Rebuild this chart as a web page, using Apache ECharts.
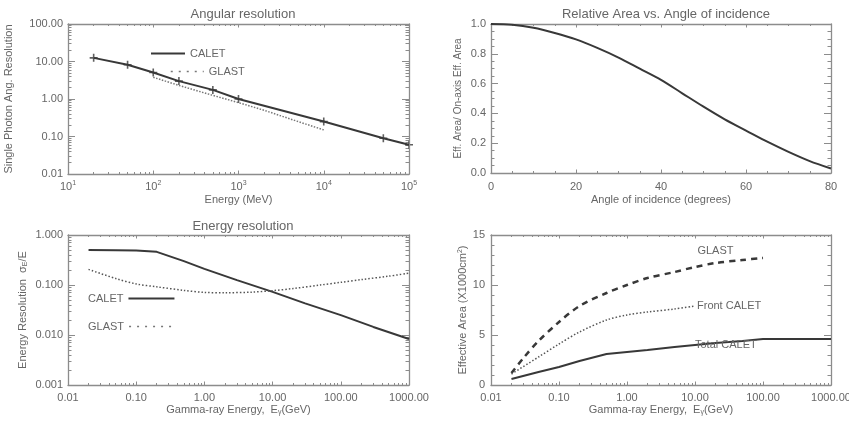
<!DOCTYPE html>
<html><head><meta charset="utf-8">
<script src="https://cdn.jsdelivr.net/npm/echarts@6/dist/echarts.min.js"></script>
<style>html,body{margin:0;padding:0;background:#fff}#c{width:849px;height:423px}</style>
</head><body><div id="c"></div>
<script>
// ---------- DATA ----------
// Panel 1: Angular resolution (deg) vs Energy (MeV)
const angXTicks = [1e1, 1e2, 1e3, 1e4, 1e5];
const angYTicks = [0.01, 0.1, 1, 10, 100];
const angEnergyCalet = [20, 50, 100, 200, 500, 1000, 10000, 50000, 100000];
const angCalet = [12.5, 8.2, 5.1, 3.0, 1.75, 1.0, 0.25, 0.09, 0.06];
const angEnergyGlast = [100, 200, 500, 1000, 2000, 5000, 10000];
const angGlast = [3.8, 2.3, 1.25, 0.8, 0.5, 0.25, 0.15];

// Panel 2: Relative area vs angle of incidence
const incXTicks = [0, 20, 40, 60, 80];
const incYTicks = [0, 0.2, 0.4, 0.6, 0.8, 1.0];
const incAngle = [0, 5, 10, 15, 20, 25, 30, 35, 40, 45, 50, 55, 60, 65, 70, 75, 80];
const relArea = [1.0, 0.995, 0.975, 0.94, 0.897, 0.84, 0.775, 0.70, 0.625, 0.535, 0.445, 0.36, 0.285, 0.21, 0.142, 0.08, 0.03];

// Panel 3: Energy resolution vs gamma-ray energy (GeV)
const gevTicks = [0.01, 0.1, 1, 10, 100, 1000];
const eresYTicks = [0.001, 0.01, 0.1, 1];
const eresEnergyCalet = [0.02, 0.05, 0.1, 0.2, 0.5, 1, 3, 10, 30, 100, 300, 1000];
const eresCalet = [0.5, 0.495, 0.49, 0.46, 0.3, 0.21, 0.125, 0.073, 0.043, 0.025, 0.0145, 0.0083];
const eresEnergyGlast = [0.02, 0.05, 0.1, 0.2, 0.5, 1, 2, 5, 10, 20, 50, 100, 200, 500, 1000];
const eresGlast = [0.205, 0.135, 0.105, 0.092, 0.078, 0.071, 0.07, 0.072, 0.077, 0.085, 0.1, 0.113, 0.128, 0.15, 0.172];

// Panel 4: Effective area (x1000 cm^2) vs gamma-ray energy (GeV)
const aeffYTicks = [0, 5, 10, 15];
const aeffEnergyGlast = [0.02, 0.03, 0.05, 0.1, 0.2, 0.5, 1, 2, 5, 10, 20, 50, 100];
const aeffGlast = [1.2, 2.7, 4.4, 6.3, 7.9, 9.2, 10.0, 10.7, 11.3, 11.8, 12.2, 12.5, 12.7];
const aeffEnergyFront = [0.02, 0.05, 0.1, 0.2, 0.5, 1, 2, 5, 10];
const aeffFront = [1.1, 2.8, 4.1, 5.3, 6.5, 7.0, 7.3, 7.6, 7.9];
const aeffEnergyTotal = [0.02, 0.05, 0.1, 0.2, 0.5, 1, 2, 5, 10, 20, 50, 100, 1000];
const aeffTotal = [0.6, 1.3, 1.8, 2.4, 3.1, 3.3, 3.5, 3.8, 4.0, 4.2, 4.4, 4.6, 4.6];

// ---------- STYLE ----------
const TXT = '#666', AX = '#8c8c8c', LN = '#383838';
const FONT = '"Liberation Sans", Arial, sans-serif';
const zip = (xs, ys) => xs.map((x, i) => [x, ys[i]]);

function minorLogs(min, max) {
  const out = [];
  for (let d = Math.round(Math.log10(min)); d < Math.round(Math.log10(max)); d++) {
    for (let k = 2; k <= 9; k++) out.push(Math.log10(k) + d);
  }
  return out;
}

const xAxes = [], yAxes = [];
function buildAxes(list, g, dim, c) {
  const main = dim === 'x' ? 'bottom' : 'left', opp = dim === 'x' ? 'top' : 'right';
  const mk = (pos, withLabel) => {
    const a = {
      gridIndex: g, position: pos, type: c.type, min: c.min, max: c.max,
      axisLine: { show: true, onZero: false, lineStyle: { color: AX, width: 1.3 } },
      axisTick: { show: true, inside: true, length: c.major, lineStyle: { color: AX, width: 1 } },
      splitLine: { show: false }, minorSplitLine: { show: false },
      axisLabel: { show: false }, silent: true, z: 3
    };
    if (c.type === 'log') a.logBase = 10;
    if (c.interval != null) a.interval = c.interval;
    if (c.type === 'value' && c.minorSplit) a.minorTick = { show: true, splitNumber: c.minorSplit, length: c.minor, lineStyle: { color: AX, width: 1 } };
    if (withLabel) {
      a.axisLabel = { show: true, color: TXT, fontSize: 11, fontFamily: FONT, margin: c.margin,
        formatter: c.fmt, rich: c.rich, showMinLabel: true, showMaxLabel: true, hideOverlap: false };
      a.name = c.name; a.nameLocation = 'middle'; a.nameGap = c.nameGap;
      a.nameTextStyle = { color: TXT, fontSize: c.nameSize || 11, fontFamily: FONT, rich: c.nameRich };
    }
    return a;
  };
  const idx = list.length;
  list.push(mk(main, true), mk(opp, false));
  if (c.type === 'log') {
    const vals = minorLogs(c.min, c.max);
    const mkMinor = pos => ({
      gridIndex: g, position: pos, type: 'value', min: Math.log10(c.min), max: Math.log10(c.max),
      axisLine: { show: false, onZero: false },
      axisTick: { show: true, inside: true, length: c.minor, customValues: vals, lineStyle: { color: AX, width: 1 } },
      axisLabel: { show: false }, splitLine: { show: false }, silent: true
    });
    list.push(mkMinor(main), mkMinor(opp));
  }
  return idx;
}

const supRich = {
  b: { fontSize: 11, color: TXT, fontFamily: FONT },
  s: { fontSize: 7, color: TXT, fontFamily: FONT, padding: [0, 0, 6, 0] }
};
const nameRich = {
  n: { fontSize: 11, color: TXT, fontFamily: FONT },
  sub: { fontSize: 7, color: TXT, fontFamily: FONT, padding: [5, 0, 0, 0] },
  sup: { fontSize: 7, color: TXT, fontFamily: FONT, padding: [0, 0, 6, 0] }
};

// Panel 1
const p1x = buildAxes(xAxes, 0, 'x', { type: 'log', min: angXTicks[0], max: angXTicks[angXTicks.length - 1], major: 3.5, minor: 2, margin: 6,
  fmt: v => '{b|10}{s|' + Math.round(Math.log10(v)) + '}', rich: supRich, name: 'Energy (MeV)', nameGap: 20 });
const p1y = buildAxes(yAxes, 0, 'y', { type: 'log', min: angYTicks[0], max: angYTicks[angYTicks.length - 1], major: 7, minor: 3.5, margin: 5,
  fmt: v => Number(v).toFixed(2), name: 'Single Photon Ang. Resolution', nameGap: 54 });
// Panel 2
const p2x = buildAxes(xAxes, 1, 'x', { type: 'value', min: incXTicks[0], max: incXTicks[incXTicks.length - 1], interval: 20, minorSplit: 4, major: 3.5, minor: 2, margin: 8,
  fmt: v => String(v), name: 'Angle of incidence (degrees)', nameGap: 21 });
const p2y = buildAxes(yAxes, 1, 'y', { type: 'value', min: incYTicks[0], max: incYTicks[incYTicks.length - 1], interval: 0.2, minorSplit: 4, major: 7, minor: 3.5, margin: 5,
  fmt: v => Number(v).toFixed(1), name: 'Eff. Area/ On-axis Eff. Area', nameGap: 28, nameSize: 10 });
// Panel 3
const p3x = buildAxes(xAxes, 2, 'x', { type: 'log', min: gevTicks[0], max: gevTicks[gevTicks.length - 1], major: 3.5, minor: 2, margin: 7,
  fmt: v => Number(v).toFixed(2), name: '{n|Gamma-ray Energy,  E}{sub|γ}{n|(GeV)}', nameRich: nameRich, nameGap: 19 });
const p3y = buildAxes(yAxes, 2, 'y', { type: 'log', min: eresYTicks[0], max: eresYTicks[eresYTicks.length - 1], major: 7, minor: 3.5, margin: 5,
  fmt: v => Number(v).toFixed(3), name: '{n|Energy Resolution  σ}{sub|E}{n|/E}', nameRich: nameRich, nameGap: 39 });
// Panel 4
const p4x = buildAxes(xAxes, 3, 'x', { type: 'log', min: gevTicks[0], max: gevTicks[gevTicks.length - 1], major: 3.5, minor: 2, margin: 7,
  fmt: v => Number(v).toFixed(2), name: '{n|Gamma-ray Energy,  E}{sub|γ}{n|(GeV)}', nameRich: nameRich, nameGap: 19 });
const p4y = buildAxes(yAxes, 3, 'y', { type: 'value', min: aeffYTicks[0], max: aeffYTicks[aeffYTicks.length - 1], interval: 5, minorSplit: 5, major: 7, minor: 3.5, margin: 6,
  fmt: v => String(v), name: '{n|Effective Area (X1000cm}{sup|2}{n|)}', nameRich: nameRich, nameGap: 21 });

const plus = 'path://M4,0H6V4H10V6H6V10H4V6H0V4H4Z';
const labelStyle = { color: TXT, fontSize: 11, fontFamily: FONT };
const legendBase = { itemHeight: 12, padding: 0, textStyle: labelStyle, selectedMode: false, itemStyle: { opacity: 0, borderWidth: 0 } };

const option = {
  animation: false,
  backgroundColor: '#fff',
  textStyle: { fontFamily: FONT },
  title: [
    { text: 'Angular resolution', left: 238, top: 3, textAlign: 'center', textStyle: { color: TXT, fontSize: 13, fontWeight: 'normal', fontFamily: FONT } },
    { text: 'Relative Area vs. Angle of incidence', left: 661, top: 3, textAlign: 'center', textStyle: { color: TXT, fontSize: 13, fontWeight: 'normal', fontFamily: FONT } },
    { text: 'Energy resolution', left: 238, top: 215, textAlign: 'center', textStyle: { color: TXT, fontSize: 13, fontWeight: 'normal', fontFamily: FONT } }
  ],
  legend: [
    { ...legendBase, left: 150, top: 48, itemWidth: 34, data: ['CALET'] },
    { ...legendBase, left: 170, top: 66, itemWidth: 33, data: [{ name: 'GLAST', lineStyle: { type: [2, 6], width: 1.5 } }] },
    { ...legendBase, left: 88, top: 293, itemWidth: 46, align: 'right', data: ['CALET'] },
    { ...legendBase, left: 88, top: 321, itemWidth: 45, align: 'right', data: [{ name: 'GLAST', lineStyle: { type: [2, 6], width: 1.5 } }] }
  ],
  grid: [
    { left: 68, top: 24, width: 341, height: 150, containLabel: false, outerBoundsMode: 'none' },
    { left: 491, top: 24, width: 340, height: 149, containLabel: false, outerBoundsMode: 'none' },
    { left: 68, top: 235, width: 341, height: 150, containLabel: false, outerBoundsMode: 'none' },
    { left: 491, top: 235, width: 340, height: 150, containLabel: false, outerBoundsMode: 'none' }
  ],
  xAxis: xAxes,
  yAxis: yAxes,
  series: [
    { type: 'line', name: 'CALET', color: LN, xAxisIndex: p1x, yAxisIndex: p1y, data: zip(angEnergyCalet, angCalet), symbol: 'none', lineStyle: { color: LN, width: 2 } },
    { type: 'scatter', name: 'CALET points', color: LN, xAxisIndex: p1x, yAxisIndex: p1y, data: zip(angEnergyCalet, angCalet), symbol: plus, symbolSize: 8, itemStyle: { color: LN } },
    { type: 'line', name: 'GLAST', color: '#777', xAxisIndex: p1x, yAxisIndex: p1y, data: zip(angEnergyGlast, angGlast), symbol: 'none', lineStyle: { color: '#777', width: 1.5, type: [1.5, 1.5] } },

    { type: 'line', name: 'Relative area', color: LN, xAxisIndex: p2x, yAxisIndex: p2y, data: zip(incAngle, relArea), symbol: 'none', smooth: 0.3, lineStyle: { color: LN, width: 2 } },

    { type: 'line', name: 'CALET', color: LN, xAxisIndex: p3x, yAxisIndex: p3y, data: zip(eresEnergyCalet, eresCalet), symbol: 'none', lineStyle: { color: LN, width: 2 } },
    { type: 'line', name: 'GLAST', color: '#555', xAxisIndex: p3x, yAxisIndex: p3y, data: zip(eresEnergyGlast, eresGlast), symbol: 'none', smooth: 0.3, lineStyle: { color: '#555', width: 1.5, type: [1.5, 2] } },

    { type: 'line', name: 'GLAST effective area', color: LN, xAxisIndex: p4x, yAxisIndex: p4y, data: zip(aeffEnergyGlast, aeffGlast), symbol: 'none', smooth: 0.3, lineStyle: { color: LN, width: 2.5, type: [6, 5] },
      markPoint: { symbol: 'circle', symbolSize: 0, silent: true,
        data: [{ coord: [aeffEnergyGlast[10], aeffGlast[10]], label: { show: true, formatter: 'GLAST', position: 'top', distance: 7, ...labelStyle } }] } },
    { type: 'line', name: 'Front CALET', color: '#555', xAxisIndex: p4x, yAxisIndex: p4y, data: zip(aeffEnergyFront, aeffFront), symbol: 'none', smooth: 0.3, lineStyle: { color: '#555', width: 1.5, type: [1.5, 2] },
      endLabel: { show: true, formatter: 'Front CALET', distance: 2, ...labelStyle } },
    { type: 'line', name: 'Total CALET', color: LN, xAxisIndex: p4x, yAxisIndex: p4y, data: zip(aeffEnergyTotal, aeffTotal), symbol: 'none', lineStyle: { color: LN, width: 2 },
      markPoint: { symbol: 'circle', symbolSize: 0, silent: true,
        data: [{ coord: [aeffEnergyTotal[8], aeffTotal[8]], label: { show: true, formatter: 'Total CALET', position: 'right', distance: 0, ...labelStyle } }] } }
  ]
};
const chart = echarts.init(document.getElementById('c'), null, { renderer: 'canvas' });
chart.setOption(option);
</script></body></html>
